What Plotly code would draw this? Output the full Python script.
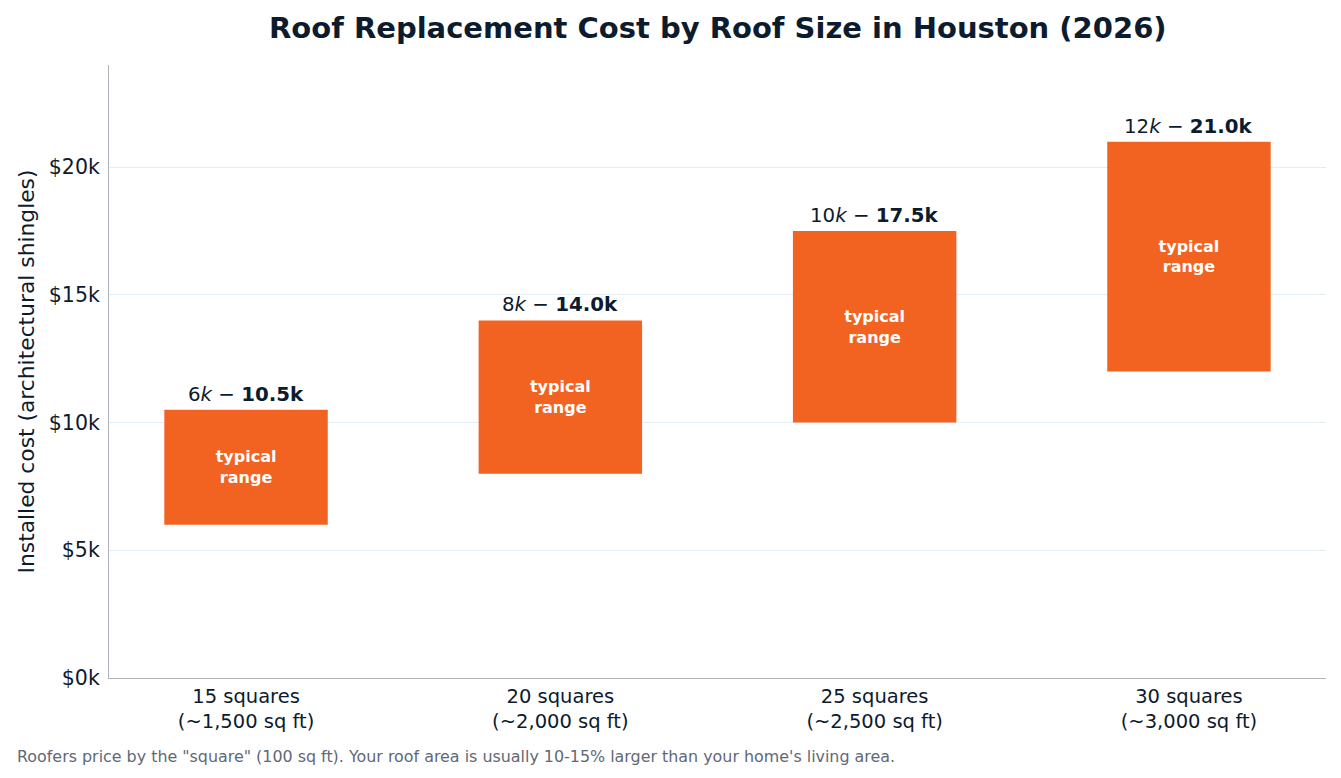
import plotly.graph_objects as go

categories = ["15 squares<br>(~1,500 sq ft)", "20 squares<br>(~2,000 sq ft)",
              "25 squares<br>(~2,500 sq ft)", "30 squares<br>(~3,000 sq ft)"]
low_k = [6, 8, 10, 12]
high_k = [10.5, 14.0, 17.5, 21.0]
ytick_vals = [0, 5000, 10000, 15000, 20000]
ytick_text = ["$0k", "$5k", "$10k", "$15k", "$20k"]

low = [v * 1000 for v in low_k]
high = [v * 1000 for v in high_k]
span = [h - l for h, l in zip(high, low)]

NAVY = "#0d1b2e"
ORANGE = "#F26322"
FONT = "DejaVu Sans, sans-serif"

fig = go.Figure()
fig.add_trace(go.Bar(
    x=categories, y=span, base=low, width=0.52,
    marker=dict(color=ORANGE, line=dict(width=0)),
    text=["<b>typical<br>range</b>"] * len(categories),
    textposition="inside", insidetextanchor="middle",
    textfont=dict(color="white", size=16, family=FONT),
    textangle=0, constraintext="none",
    hoverinfo="skip",
))

for c, l, h in zip(categories, low_k, high_k):
    fig.add_annotation(
        x=c, y=h * 1000, yanchor="bottom", yshift=2, showarrow=False,
        text=f"{l:g}<i>k</i> − <b>{h:.1f}k</b>",
        font=dict(size=19.8, color=NAVY, family=FONT),
    )

fig.add_annotation(
    xref="paper", yref="paper", x=0.5, y=1, yshift=37, yanchor="middle", showarrow=False,
    text="<b>Roof Replacement Cost by Roof Size in Houston (2026)</b>",
    font=dict(size=29, color=NAVY, family=FONT),
)
fig.add_annotation(
    xref="paper", yref="paper", x=-0.0772, y=0, yshift=-78, xanchor="left", yanchor="middle",
    showarrow=False, align="left",
    text='Roofers price by the "square" (100 sq ft). Your roof area is usually 10-15% larger than your home\'s living area.',
    font=dict(size=15.9, color="#5f6878", family=FONT),
)

fig.update_layout(
    width=1341, height=778,
    margin=dict(l=109, r=15, t=65, b=100),
    paper_bgcolor="white", plot_bgcolor="white",
    showlegend=False,
    font=dict(family=FONT, color=NAVY),
    xaxis=dict(range=[-0.436, 3.436], showline=True, linecolor="#b0b4ba", linewidth=1.2,
               ticks="", tickfont=dict(size=19.5, color=NAVY), showgrid=False),
    yaxis=dict(range=[0, 24000], tickvals=ytick_vals, ticktext=ytick_text,
               showline=True, linecolor="#b0b4ba", linewidth=1.2,
               showgrid=True, gridcolor="#e3edf3", gridwidth=1, zeroline=False,
               ticks="", ticklabelstandoff=4, tickfont=dict(size=20.5, color=NAVY),
               title=dict(text="Installed cost (architectural shingles)",
                          font=dict(size=21.8, color=NAVY), standoff=8)),
)

fig.write_html("out.html")
